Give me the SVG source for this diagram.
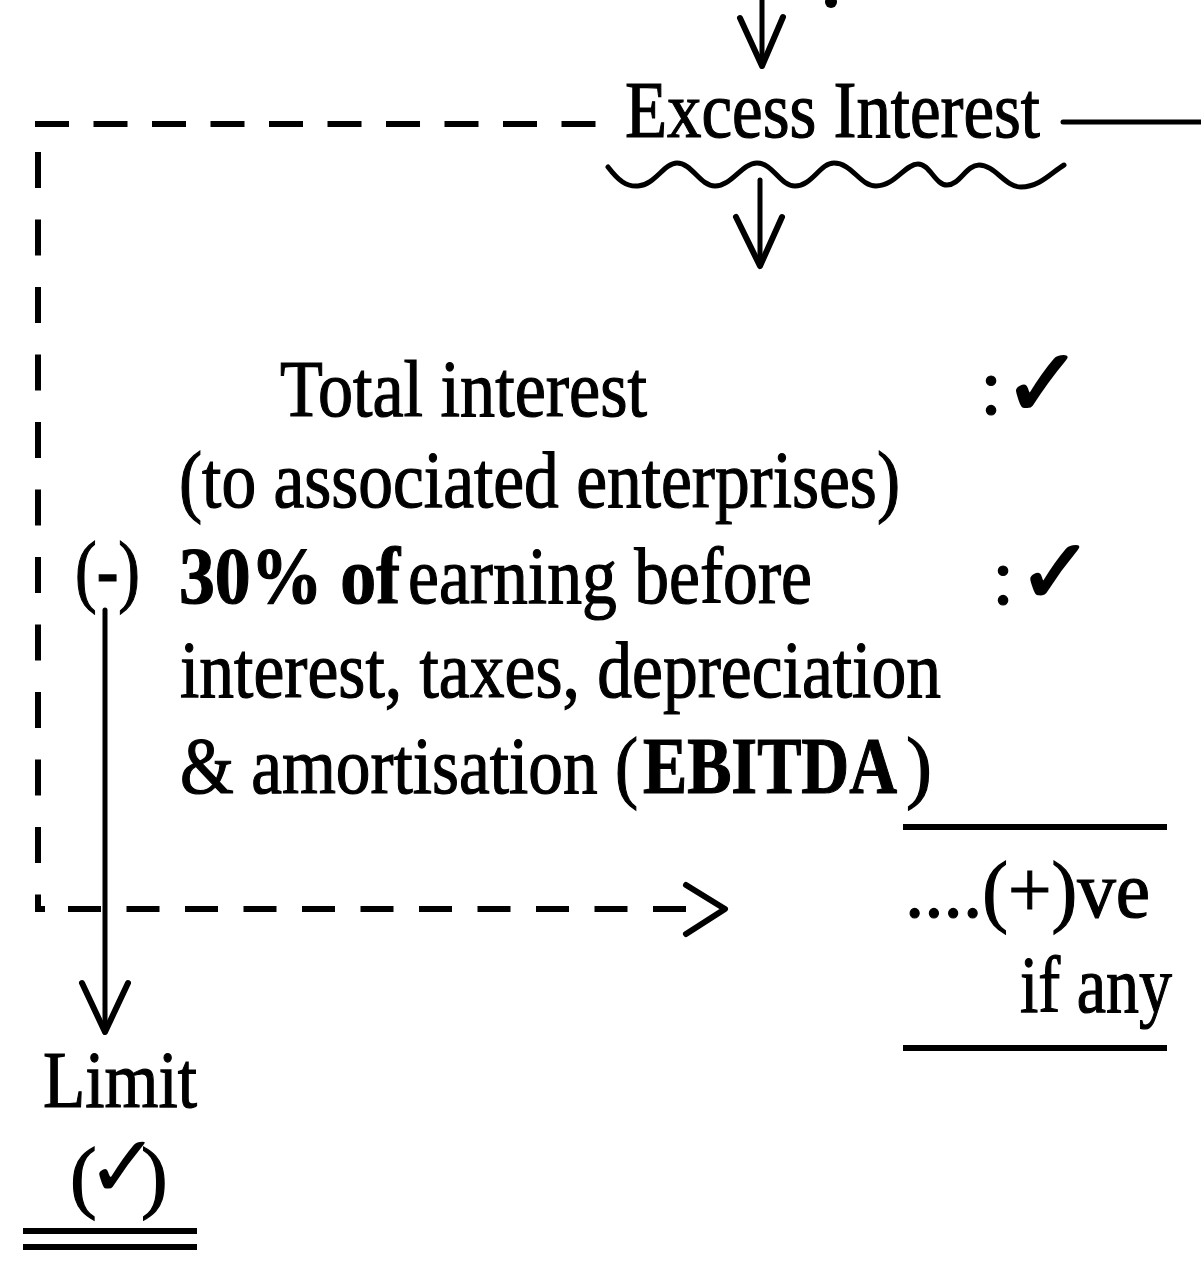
<svg xmlns="http://www.w3.org/2000/svg" width="1201" height="1263" viewBox="0 0 1201 1263">
  <style>
    .t { font-family: "Liberation Serif", "Times New Roman", serif; font-size: 80px; fill: #000; stroke: #000; stroke-width: 1.2px; }
    .b { font-weight: bold; }
    .chk { font-family: "DejaVu Sans", sans-serif; fill: #000; }
    .heavy { stroke: #000; stroke-width: 2.5px; stroke-linejoin: round; }
    .ln { stroke: #000; stroke-width: 5; fill: none; stroke-linecap: round; stroke-linejoin: round; }
    .head { stroke: #000; stroke-width: 6; fill: none; stroke-linecap: round; stroke-linejoin: round; }
    .rule { stroke: #000; stroke-width: 6; fill: none; }
    .dash { stroke: #000; stroke-width: 6; fill: none; }
  </style>
  <rect width="1201" height="1263" fill="#fff"/>

  <!-- connectors -->
  <g id="connectors">
    <!-- incoming arrow from above -->
    <line class="ln" x1="762" y1="-5" x2="762" y2="66"/>
    <polyline class="head" points="740,18 762,66 783,17"/>
    <circle cx="831" cy="2" r="6" fill="#000"/>
    <!-- line to the right of the heading -->
    <line class="ln" x1="1063" y1="122" x2="1205" y2="122"/>
    <!-- wavy underline -->
    <path class="ln" d="M608,167 C618,180 626,187 638,186 C655,185 664,163 677,163 C692,163 700,186 715,186 C732,186 742,163 757,163 C773,163 780,186 795,186 C812,186 820,163 834,163 C852,163 860,186 876,186 C895,186 905,164 918,164 C930,164 935,185 947,185 C960,185 966,165 979,165 C995,165 1005,187 1021,187 C1040,187 1052,172 1064,165"/>
    <!-- arrow down to the calculation -->
    <line class="ln" x1="760" y1="180" x2="760" y2="266"/>
    <polyline class="head" points="736,217 760,266 782,217"/>
    <!-- dashed loop -->
    <line class="dash" x1="35" y1="124" x2="596" y2="124" stroke-dasharray="34 24.5"/>
    <path class="dash" d="M38,152 V909 H45" stroke-dasharray="36 31.5"/>
    <line class="dash" x1="68" y1="909" x2="686" y2="909" stroke-dasharray="33 25.5"/>
    <polyline class="head" points="686,885 725,909 686,934"/>
    <!-- minus line down to the limit -->
    <line class="ln" x1="105" y1="610" x2="105" y2="1032"/>
    <polyline class="head" points="82,983 105,1032 128,983"/>
  </g>

  <g id="excess-interest">
    <text class="t" x="625" y="137" textLength="415" lengthAdjust="spacingAndGlyphs">Excess Interest</text>
  </g>

  <g id="total-interest">
    <text class="t" x="980" y="414" font-size="66">:</text>
    <text class="chk heavy" x="1003" y="416" font-size="95">✓</text>
    <text class="t" x="280" y="416" textLength="367" lengthAdjust="spacingAndGlyphs">Total interest</text>
    <text class="t" x="179" y="507" textLength="721" lengthAdjust="spacingAndGlyphs">(to associated enterprises)</text>
  </g>

  <g id="ebitda-share">
    <text class="t" x="75" y="597" textLength="65" lengthAdjust="spacingAndGlyphs">(-)</text>
    <text class="t b" x="179" y="603" textLength="221" lengthAdjust="spacingAndGlyphs">30% of</text>
    <text class="t" x="408" y="603" textLength="404" lengthAdjust="spacingAndGlyphs">earning before</text>
    <text class="t" x="992" y="604" font-size="66">:</text>
    <text class="chk heavy" x="1018" y="603" font-size="90">✓</text>
    <text class="t" x="180" y="697" textLength="761" lengthAdjust="spacingAndGlyphs">interest, taxes, depreciation</text>
    <text class="t" x="180" y="793" textLength="458" lengthAdjust="spacingAndGlyphs">&amp; amortisation (</text>
    <text class="t b" x="643" y="793" textLength="254" lengthAdjust="spacingAndGlyphs">EBITDA</text>
    <text class="t" x="906" y="793" textLength="26" lengthAdjust="spacingAndGlyphs">)</text>
  </g>

  <g id="positive-balance">
    <line class="rule" x1="903" y1="827" x2="1167" y2="827"/>
    <text class="t" x="905" y="917" textLength="245" lengthAdjust="spacingAndGlyphs">....(+)ve</text>
    <text class="t" x="1020" y="1012" textLength="152" lengthAdjust="spacingAndGlyphs">if any</text>
    <line class="rule" x1="903" y1="1048" x2="1167" y2="1048"/>
  </g>

  <g id="limit">
    <text class="t" x="43" y="1107" textLength="154" lengthAdjust="spacingAndGlyphs">Limit</text>
    <text class="t" x="70" y="1203">(<tspan class="chk" font-size="88" x="86" y="1197" stroke-width="0">✓</tspan><tspan x="141" y="1203">)</tspan></text>
    <line class="rule" x1="23" y1="1231" x2="197" y2="1231"/>
    <line class="rule" x1="23" y1="1247" x2="197" y2="1247"/>
  </g>
</svg>
